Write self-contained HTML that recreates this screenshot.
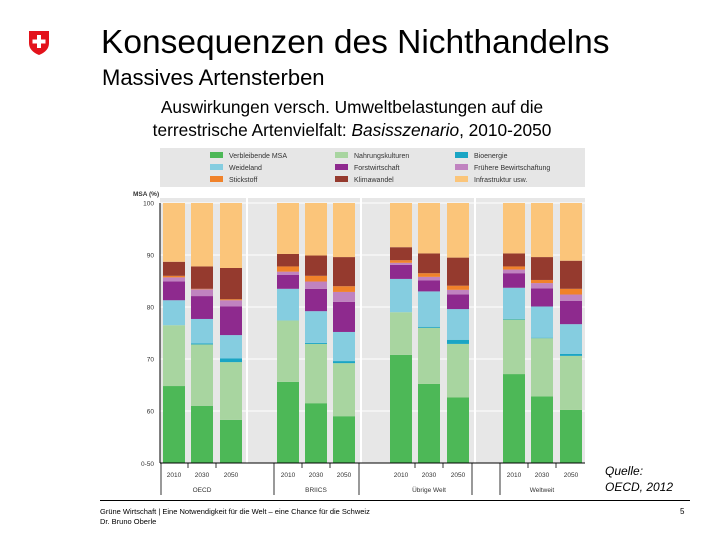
<!DOCTYPE html>
<html><head><meta charset="utf-8"><style>
body{margin:0;width:720px;height:540px;background:#fff;overflow:hidden;position:relative;font-family:"Liberation Sans",sans-serif}
.abs{position:absolute;white-space:nowrap}
</style></head><body>
<svg class="abs" style="left:28px;top:30px" width="22" height="26">
<path d="M1 1 H21 V13 Q21 21 11 25 Q1 21 1 13 Z" fill="#e3121b"/>
<rect x="9" y="5" width="4" height="13" fill="#fff"/><rect x="4.5" y="9.5" width="13" height="4" fill="#fff"/></svg>
<div class="abs" style="left:101px;top:24px;font-size:33.5px;color:#000">Konsequenzen des Nichthandelns</div>
<div class="abs" style="left:102px;top:65px;font-size:22px">Massives Artensterben</div>
<div class="abs" style="left:102px;top:96px;width:500px;text-align:center;font-size:17.3px;line-height:23px;white-space:normal">Auswirkungen versch. Umweltbelastungen auf die<br>terrestrische Artenvielfalt: <i>Basisszenario</i>, 2010-2050</div>
<svg class="abs" style="left:0;top:0" width="720" height="540" id="chart"></svg>
<div class="abs" style="left:605px;top:463px;font-size:12px;line-height:16px;font-style:italic">Quelle:<br>OECD, 2012</div>
<div class="abs" style="left:100px;top:500px;width:590px;height:1px;background:#000"></div>
<div class="abs" style="left:100px;top:507px;font-size:7.5px;line-height:10px">Grüne Wirtschaft | Eine Notwendigkeit für die Welt – eine Chance für die Schweiz<br>Dr. Bruno Oberle</div>
<div class="abs" style="left:680px;top:507px;font-size:8px">5</div>
<script>
const years=["2010","2030","2050","2010","2030","2050","2010","2030","2050","2010","2030","2050"];
const groups=["OECD","BRIICS","Übrige Welt","Weltweit"];
const seriesNames=["Verbleibende MSA","Nahrungskulturen","Bioenergie","Weideland","Forstwirtschaft","Frühere Bewirtschaftung","Stickstoff","Klimawandel","Infrastruktur usw."];
const msa=[64.8,61.0,58.3,65.6,61.5,59.0,70.8,65.2,62.6,67.1,62.8,60.2];
const nahrung=[11.7,11.8,11.1,11.8,11.4,10.2,8.2,10.8,10.3,10.5,11.2,10.4];
const bio=[0,0.2,0.7,0,0.2,0.4,0,0.2,0.8,0.1,0.1,0.4];
const weide=[4.8,4.7,4.5,6.1,6.1,5.6,6.4,6.8,5.9,6.0,6.0,5.7];
const forst=[3.6,4.4,5.5,2.7,4.3,5.8,2.7,2.1,2.8,2.8,3.5,4.5];
const frueh=[0.8,1.3,1.2,0.6,1.4,1.9,0.4,0.7,0.9,0.7,1.0,1.2];
const stick=[0.3,0.1,0.2,1.0,1.1,1.1,0.5,0.7,0.8,0.6,0.6,1.1];
const klima=[2.7,4.3,6.0,2.4,3.9,5.6,2.5,3.8,5.4,2.5,4.4,5.4];
const yTicks=[100,90,80,70,60];
const colors=["#4db857","#a8d5a0","#1aa5c4","#85cde0","#8e2a8e","#c083c0","#f0822a","#953a2e","#fbc57a"];
const NS="http://www.w3.org/2000/svg",svg=document.getElementById('chart');
function mk(t,a,p){const e=document.createElementNS(NS,t);for(const k in a)e.setAttribute(k,a[k]);(p||svg).appendChild(e);return e;}
const y=v=>463-(v-50)*5.2;
const xc=i=>[174,202,231,288,316,344,401,429,458,514,542,571][i];
let lg=mk('rect',{x:160,y:148,width:425,height:39,fill:'#e6e6e6'});


const legendSeq=[0,3,6,1,4,7,2,5,8];
legendSeq.forEach((s,k)=>{
  const col=Math.floor(k/3),row=k%3,lx=[210,335,455][col],ly=[152,164,176][row];
  const g=mk('g',{});
  
  
  mk('rect',{x:lx,y:ly,width:13,height:6,fill:colors[s]},g);
  const t=mk('text',{x:lx+19,y:ly+6,'font-size':7,fill:'#333'},g);t.textContent=seriesNames[s];
});
let bg=mk('rect',{x:160,y:198,width:425,height:265,fill:'#e7e7e7'});


yTicks.forEach(v=>{const l=mk('line',{x1:160,x2:585,y1:y(v),y2:y(v),stroke:'#fff','stroke-width':1});


const t=mk('text',{x:154,y:y(v)+2.5,'font-size':6.5,'text-anchor':'end',fill:'#333'});t.textContent=v;

});
[247,361,475].forEach(xx=>mk('line',{x1:xx,x2:xx,y1:198,y2:463,stroke:'#fff','stroke-width':2}));
let t0=mk('text',{x:154,y:466,'font-size':6.5,'text-anchor':'end',fill:'#333'});t0.textContent='0-50';
let yt=mk('text',{x:133,y:196,'font-size':6.5,fill:'#333','font-weight':'bold'});yt.textContent='MSA (%)';


mk('line',{x1:160,x2:160,y1:203,y2:463,stroke:'#000','stroke-width':1});
const series=[msa,nahrung,bio,weide,forst,frueh,stick,klima];
years.forEach((yr,i)=>{
  let cum=50;
  for(let s=0;s<9;s++){
    let v=s===0?msa[i]-50:(s<8?series[s][i]:100-cum);
    if(v<=0)continue;
    const r=mk('rect',{x:xc(i)-11,y:y(cum+v),width:22,height:v*5.2,fill:colors[s]});
    
    
    cum+=v;
  }
  const t=mk('text',{x:xc(i),y:477,'font-size':6.5,'text-anchor':'middle',fill:'#333'});t.textContent=yr;
  
  
});
mk('line',{x1:160,x2:585,y1:463,y2:463,stroke:'#000','stroke-width':1});
[161,274,359,472,500].forEach(xx=>mk('line',{x1:xx,x2:xx,y1:463,y2:495,stroke:'#000','stroke-width':0.8}));
[188,216,302,330,415,443,528,556].forEach(xx=>mk('line',{x1:xx,x2:xx,y1:463,y2:468,stroke:'#000','stroke-width':0.8}));
groups.forEach((g,k)=>{const t=mk('text',{x:[202,316,429,542][k],y:492,'font-size':6.5,'text-anchor':'middle',fill:'#333'});t.textContent=g;

});
</script>
</body></html>
